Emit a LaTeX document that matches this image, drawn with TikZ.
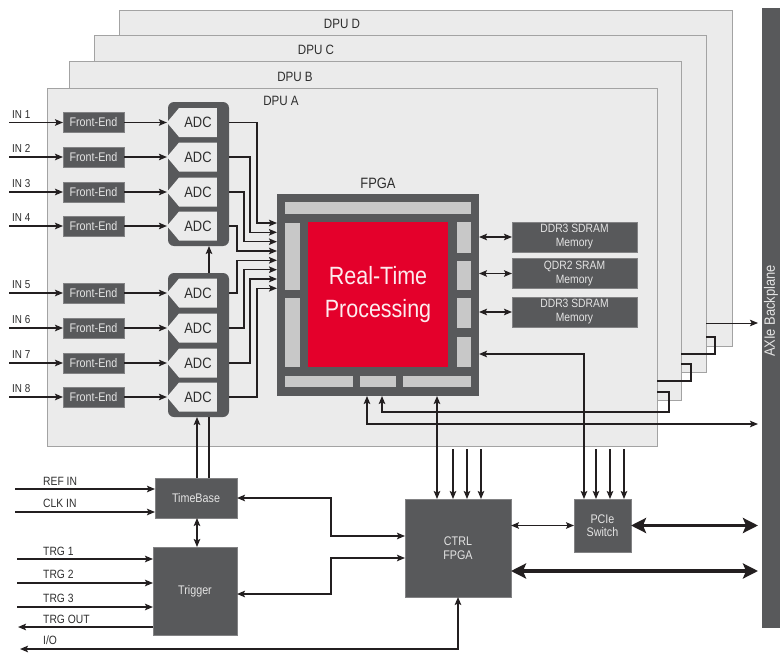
\documentclass[tikz,border=0pt]{standalone}
\usepackage{fontspec}
\setmainfont{Liberation Sans}[FakeStretch=0.86]
\usetikzlibrary{arrows.meta,shapes.symbols,calc}
\definecolor{dk}{HTML}{58595B}
\definecolor{pan}{HTML}{EBEBEB}
\definecolor{panb}{HTML}{A3A3A3}
\definecolor{barc}{HTML}{C8C8C8}
\definecolor{rd}{HTML}{E4002B}
\definecolor{lnc}{HTML}{231F20}
\definecolor{wt}{HTML}{E4E4E4}
\definecolor{txt}{HTML}{2E2E2E}
\newcommand\fsLbl{\fontsize{12}{14}\selectfont}
\newcommand\fsBox{\fontsize{12.5}{13.5}\selectfont}
\newcommand\fsDpu{\fontsize{13.5}{15}\selectfont}
\begin{document}
\begin{tikzpicture}[x=1pt,y=-1pt,
  panel/.style={draw=panb,fill=pan,line width=0.8pt,anchor=north west,inner sep=0pt,outer sep=0pt},
  dbox/.style={fill=dk,draw=dk!75!white,line width=0.5pt,text=wt,align=center,inner sep=0pt,outer sep=0pt,font=\fsBox},
  lbl/.style={text=txt,inner sep=0pt,font=\fsLbl},
  wire/.style={draw=lnc,line width=1.4pt},
  arr/.style={wire,-{Stealth[length=8pt,width=6.5pt,inset=1.5pt]}},
  rarr/.style={wire,{Stealth[length=8pt,width=6.5pt,inset=1.5pt]}-},
  darr/.style={wire,{Stealth[length=8pt,width=6.5pt,inset=1.5pt]}-{Stealth[length=8pt,width=6.5pt,inset=1.5pt]}},
  tarr/.style={draw=lnc,line width=3.6pt,{Stealth[length=15pt,width=15pt,inset=3pt]}-{Stealth[length=15pt,width=15pt,inset=3pt]}},
  adc/.style={shape=signal,signal to=west,signal pointer angle=100,fill=pan,minimum width=50pt,minimum height=29pt,inner sep=0pt,outer sep=0pt,font=\fontsize{15}{17}\selectfont,text=txt},
  fe/.style={dbox,minimum width=61pt,minimum height=20pt,font=\fontsize{12.5}{14}\selectfont},
  grp/.style={fill=dk,rounded corners=6pt,minimum width=61pt,minimum height=144pt,inner sep=0pt,outer sep=0pt},
  mem/.style={dbox,minimum width=125pt,minimum height=30pt,font=\fontsize{12}{14}\selectfont},
  barr/.style={fill=barc}
]
\useasboundingbox (0,0) rectangle (780,653);

% DPU panels
\node[panel,minimum width=613pt,minimum height=336pt] (dpuD) at (119,10) {};
\node[panel,minimum width=612pt,minimum height=337pt] (dpuC) at (94,35) {};
\node[panel,minimum width=612pt,minimum height=339pt] (dpuB) at (69,61) {};
\node[panel,minimum width=610pt,minimum height=358pt] (dpuA) at (47,88) {};
\node[lbl,font=\fsDpu] (tD) at (342,24) {DPU D};
\node[lbl,font=\fsDpu] (tC) at (316,50) {DPU C};
\node[lbl,font=\fsDpu] (tB) at (295,77) {DPU B};
\node[lbl,font=\fsDpu] (tA) at (281,101) {DPU A};

% backplane
\node[fill=dk,minimum width=18pt,minimum height=620pt,inner sep=0pt,outer sep=0pt] (bp) at (771,318) {};
\node[rotate=90,text=wt,inner sep=0pt,font=\fontsize{15}{17}\selectfont] (bptext) at (771,311) {AXIe Backplane};

% ADC groups
\node[grp] (adcU) at (198.5,174) {};
\node[grp] (adcL) at (198.5,345) {};

% inputs, front-ends, ADCs
\foreach \i/\y in {1/122.5,2/157,3/192,4/226,5/293,6/328,7/363,8/397}{
  \coordinate (in\i) at (9,\y);
  \node[lbl,anchor=base west,font=\fontsize{11.5}{13}\selectfont] (lin\i) at (12,\y-4.5) {IN \i};
  \node[fe] (fe\i) at (93.5,\y) {Front-End};
  \node[adc] (adc\i) at (198,\y) {ADC};
  \draw[arr] (in\i) -- (fe\i);
  \draw[arr] (fe\i) -- (adc\i.west);
}

% FPGA
\node[fill=dk,minimum width=202pt,minimum height=202pt,inner sep=0pt,outer sep=0pt] (fpga) at (378,295) {};
\node[lbl,font=\fontsize{15}{17}\selectfont] (fpgalbl) at (378,183) {FPGA};
\fill[barr] (285,202) rectangle (471,214);
\fill[barr] (285,223) rectangle (300,290);
\fill[barr] (285,298) rectangle (300,367);
\fill[barr] (457,222) rectangle (471,253);
\fill[barr] (457,261) rectangle (471,290);
\fill[barr] (457,298) rectangle (471,328);
\fill[barr] (457,337) rectangle (471,367);
\fill[barr] (285,376) rectangle (353,387);
\fill[barr] (360,376) rectangle (396,387);
\fill[barr] (403,376) rectangle (471,387);
\node[fill=rd,minimum width=140pt,minimum height=145pt,inner sep=0pt,text=white!92!rd,align=center,font=\fontsize{25}{33}\selectfont] (rtp) at (378,294.5) {Real-Time\\Processing};

% ADC -> FPGA
\foreach \i/\cx/\fy in {1/257/223,2/250/232.3,3/244/241.7,4/237/251,5/237/260.3,6/244/269.7,7/250/279,8/257/288.3}{
  \coordinate (fi\i) at (277,\fy);
  \draw[arr] (adcU.east |- adc\i) -| (\cx,\fy) -- (fi\i);
}

% memories
\node[mem] (mem1) at (574.5,237) {DDR3 SDRAM\\Memory};
\node[mem] (mem2) at (574.5,273.5) {QDR2 SRAM\\Memory};
\node[mem] (mem3) at (574.5,312) {DDR3 SDRAM\\Memory};
\draw[darr] (fpga.east |- mem1) -- (mem1);
\draw[darr] (fpga.east |- mem2) -- (mem2);
\draw[darr] (fpga.east |- mem3) -- (mem3);

% lower blocks
\node[dbox,minimum width=82pt,minimum height=40pt] (timebase) at (196,498) {TimeBase};
\node[dbox,minimum width=84pt,minimum height=88pt] (trigger) at (195,591) {Trigger};
\node[dbox,minimum width=106pt,minimum height=98pt] (ctrl) at (458,548) {CTRL\\FPGA};
\node[dbox,minimum width=57pt,minimum height=53pt] (pcie) at (602.5,525.5) {PCIe\\Switch};

% daisy chain to backplane
\coordinate (fb1) at (367,396);
\coordinate (fb2) at (382,396);
\coordinate (bpa) at (758,323);
\coordinate (bpb) at (758,424);
\coordinate (eA) at (657,392);
\coordinate (sB) at (657,381);
\coordinate (eB) at (681,364);
\coordinate (sC) at (681,354);
\coordinate (eC) at (706,337);
\coordinate (sD) at (706,323);
\draw[rarr] (fb2) |- (669,412) -- (669,392) -- (eA);
\draw[wire] (sB) -| (691,364) -- (eB);
\draw[wire] (sC) -| (715,337) -- (eC);
\draw[arr,line width=1pt] (sD) -- (bpa);
\draw[darr] (fb1) |- (bpb);

% PCIe links
\coordinate (fr4) at (479,354);
\coordinate (p1) at ($(pcie.north west)+(10,0)$);
\coordinate (p2) at ($(pcie.north west)+(22,0)$);
\coordinate (p3) at ($(pcie.north west)+(36,0)$);
\coordinate (p4) at ($(pcie.north west)+(50,0)$);
\draw[darr] (fr4) -| (p1);
\foreach \p in {p2,p3,p4}{\draw[arr] ($(\p)+(0,-50)$) -- (\p);}

% CTRL links
\coordinate (c1) at ($(ctrl.north west)+(32,0)$);
\coordinate (c2) at ($(ctrl.north west)+(48,0)$);
\coordinate (c3) at ($(ctrl.north west)+(62,0)$);
\coordinate (c4) at ($(ctrl.north west)+(76,0)$);
\draw[darr] (c1 |- fpga.south) -- (c1);
\foreach \p in {c2,c3,c4}{\draw[arr] ($(\p)+(0,-50)$) -- (\p);}

% timebase to ADCs
\coordinate (tb1) at ($(timebase.north west)+(42,0)$);
\coordinate (tb2) at ($(timebase.north west)+(54,0)$);
\draw[arr] (tb1) -- (tb1 |- adcL.south);
\draw[wire] (tb2) -- (tb2 |- adcL.south);
\draw[arr] (tb2 |- adcL.north) -- (tb2 |- adcU.south);
\draw[darr] (tb1 |- timebase.south) -- (tb1 |- trigger.north);

% external inputs
\coordinate (ref) at (15,489);
\coordinate (clk) at (15,512);
\coordinate (trg1) at (17,559);
\coordinate (trg2) at (17,583);
\coordinate (trg3) at (17,607);
\coordinate (trgo) at (18,627);
\coordinate (io) at (20,649);
\node[lbl,anchor=base west] (lref) at (43,485) {REF IN};
\node[lbl,anchor=base west] (lclk) at (43,507) {CLK IN};
\node[lbl,anchor=base west] (ltrg1) at (43,555) {TRG 1};
\node[lbl,anchor=base west] (ltrg2) at (43,578) {TRG 2};
\node[lbl,anchor=base west] (ltrg3) at (43,602) {TRG 3};
\node[lbl,anchor=base west] (ltrgo) at (43,623) {TRG OUT};
\node[lbl,anchor=base west] (lio) at (43,644) {I/O};
\draw[arr] (ref) -- (ref -| timebase.west);
\draw[arr] (clk) -- (clk -| timebase.west);
\draw[arr] (trg1) -- (trg1 -| trigger.west);
\draw[arr] (trg2) -- (trg2 -| trigger.west);
\draw[arr] (trg3) -- (trg3 -| trigger.west);
\draw[arr] (trgo -| trigger.west) -- (trgo);
\draw[darr] (ctrl.south) |- (io);

% timebase/trigger <-> ctrl
\coordinate (k1) at (405,536);
\coordinate (k2) at (405,558);
\coordinate (t594) at (237,594);
\draw[darr] (timebase.east) -| (331,536) -- (k1);
\draw[darr] (t594) -| (331,558) -- (k2);

% ctrl <-> pcie, backplane
\draw[darr] (ctrl.east |- pcie.west) -- (pcie.west);
\coordinate (k3) at (511,571);
\draw[tarr,shorten >=4pt] (pcie.east) -- (pcie.east -| bp.west);
\draw[tarr,shorten >=4pt] (k3) -- (k3 -| bp.west);
\end{tikzpicture}
\end{document}
